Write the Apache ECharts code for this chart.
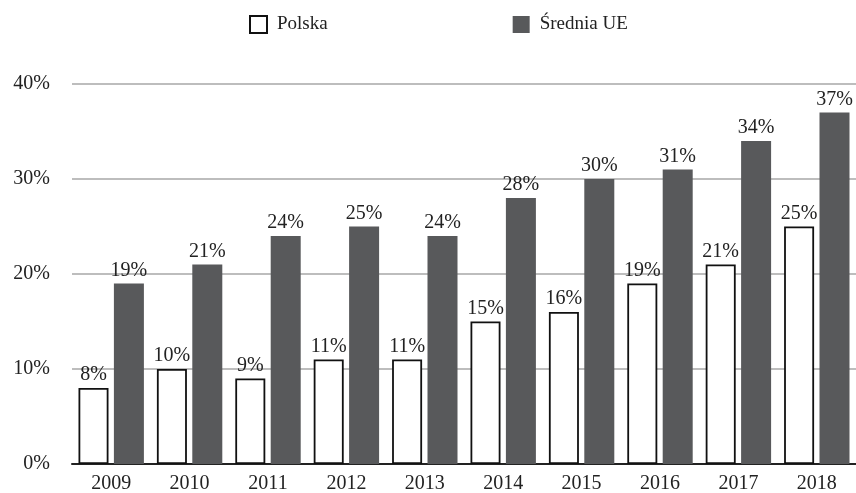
<!DOCTYPE html>
<html>
<head>
<meta charset="utf-8">
<script src="https://cdn.jsdelivr.net/npm/echarts@6/dist/echarts.min.js"></script>
<style>
  html, body { margin: 0; padding: 0; background: #ffffff; }
  #chart { width: 856px; height: 493px; }
</style>
</head>
<body>
<div id="chart"></div>
<script>
const years = ['2009', '2010', '2011', '2012', '2013', '2014', '2015', '2016', '2017', '2018'];
const polska = [8, 10, 9, 11, 11, 15, 16, 19, 21, 25];
const sredniaUE = [19, 21, 24, 25, 24, 28, 30, 31, 34, 37];

const FONT = '"Liberation Serif", "DejaVu Serif", serif';
const chart = echarts.init(document.getElementById('chart'), null, { renderer: 'canvas' });

const labelStyle = {
    show: true,
    position: 'top',
    distance: 3,
    formatter: '{c}%',
    color: '#222',
    fontFamily: FONT,
    fontSize: 20
};

chart.setOption({
    backgroundColor: '#ffffff',
    animation: false,
    textStyle: { fontFamily: FONT },
    legend: {
        top: 10,
        left: 244,
        itemWidth: 17,
        itemHeight: 17,
        itemGap: 185,
        icon: 'rect',
        textStyle: { fontFamily: FONT, fontSize: 19, color: '#222', padding: [0, 0, 0, 5] },
        data: ['Polska', 'Średnia UE']
    },
    grid: { left: 72, right: 0, top: 84, bottom: 29, outerBoundsMode: 'none', containLabel: false },
    xAxis: {
        type: 'category',
        data: years,
        axisTick: { show: false },
        axisLine: { lineStyle: { color: '#222', width: 2 } },
        axisLabel: { color: '#222', fontFamily: FONT, fontSize: 20, margin: 10 }
    },
    yAxis: {
        type: 'value',
        min: 0,
        max: 40,
        interval: 10,
        axisLine: { show: false },
        axisTick: { show: false },
        axisLabel: { formatter: '{value}%', color: '#222', fontFamily: FONT, fontSize: 20, margin: 22 },
        splitLine: { lineStyle: { color: '#bdbdbd', width: 2 } }
    },
    series: [
        {
            name: 'Polska',
            type: 'bar',
            data: polska,
            barWidth: 30,
            barGap: '18%',
            itemStyle: { color: '#ffffff', borderColor: '#111', borderWidth: 1.8 },
            label: labelStyle
        },
        {
            name: 'Średnia UE',
            type: 'bar',
            data: sredniaUE,
            barWidth: 30,
            itemStyle: { color: '#58595b' },
            label: labelStyle
        }
    ]
});
</script>
</body>
</html>
